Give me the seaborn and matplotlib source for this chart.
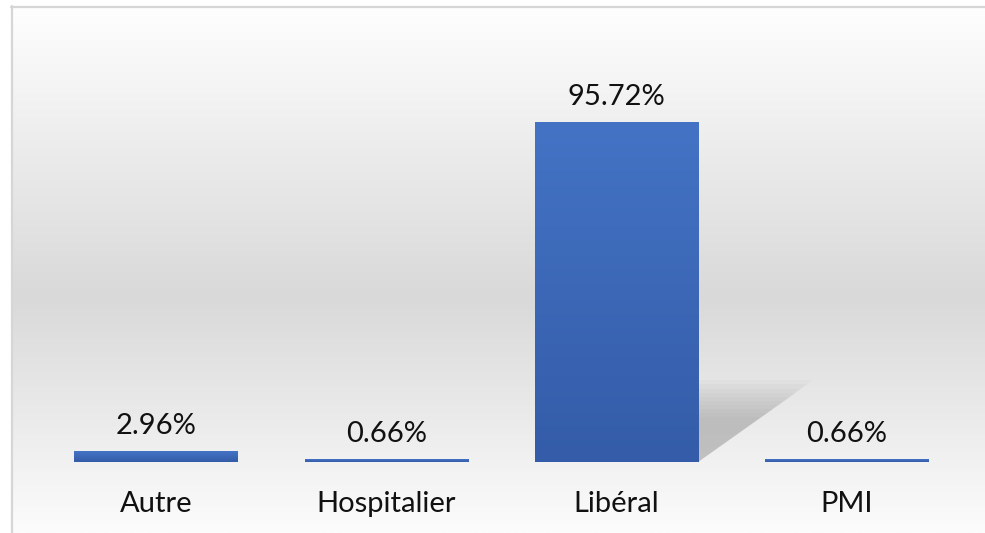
#!/usr/bin/env python3
"""Bar chart: share of respondents by practice type (Autre / Hospitalier / Libéral / PMI)."""
import numpy as np
import pandas as pd
import matplotlib
matplotlib.use("Agg")
import matplotlib.pyplot as plt
from matplotlib.colors import LinearSegmentedColormap
from matplotlib.patches import Polygon
from matplotlib.lines import Line2D
import seaborn as sns

categories = ["Autre", "Hospitalier", "Libéral", "PMI"]
values = [2.96, 0.66, 95.72, 0.66]
value_labels = ["2.96%", "0.66%", "95.72%", "0.66%"]

W, H, DPI = 985, 533, 100

sns.set_theme(style="white")
plt.rcParams["font.family"] = ["Lato", "DejaVu Sans"]

fig = plt.figure(figsize=(W / DPI, H / DPI), dpi=DPI)
fig.patch.set_facecolor("white")

# background gradient of the chart area (white -> grey -> white)
bg_cmap = LinearSegmentedColormap.from_list(
    "bg", [(0.0, "#fefefe"), (0.12, "#f6f6f6"), (0.55, "#d9d9d9"),
           (0.80, "#ececec"), (1.0, "#fcfcfc")])
bg_ax = fig.add_axes([12 / W, 0, 1 - 12 / W, (H - 7) / H])
bg_ax.imshow(np.linspace(0, 1, 256).reshape(-1, 1), aspect="auto", cmap=bg_cmap,
             extent=[0, 1, 0, 1])
bg_ax.set_axis_off()

# frame border (top and left visible, the rest is cropped)
fig.add_artist(Line2D([11.5 / W, 11.5 / W], [0, (H - 6) / H], color="#d6d6d6", lw=1.6))
fig.add_artist(Line2D([11 / W, 1], [(H - 6.5) / H, (H - 6.5) / H], color="#d6d6d6", lw=1.6))

# main axes
base_px, top_px = 462, 60
ax = fig.add_axes([41 / W, (H - base_px) / H, (962 - 41) / W, (base_px - top_px) / H])
ax.patch.set_alpha(0)

df = pd.DataFrame({"category": categories, "value": values})
sns.barplot(data=df, x="category", y="value", color="#4472C4", width=0.71,
            saturation=1, ax=ax)

ymax = values[2] * (base_px - top_px) / (base_px - 122)

bar_cmap = LinearSegmentedColormap.from_list("bar", ["#345ca8", "#4473c5"])
grad = np.linspace(0, 1, 256).reshape(-1, 1)
bars = list(ax.patches)
for p in bars:
    x0, y0 = p.get_x(), p.get_y()
    w, h = p.get_width(), p.get_height()
    ax.imshow(grad, aspect="auto", cmap=bar_cmap, origin="lower",
              extent=[x0, x0 + w, y0, y0 + h], zorder=2)
    p.set_facecolor("none")
    p.set_edgecolor("none")

# soft perspective shadow behind the tallest bar
big = bars[int(np.argmax(values))]
bx1 = big.get_x() + big.get_width()
sh_h = big.get_height() * 0.24
sh_w = big.get_width() * 0.70
for k in range(10):
    s = 1 - k * 0.05
    ax.add_patch(Polygon([(bx1, 0), (bx1, sh_h * s), (bx1 + sh_w * s, sh_h * s)],
                         closed=True, facecolor="#8a8a8a", edgecolor="none",
                         alpha=0.055, zorder=1))

ax.set_xlim(-0.5, len(categories) - 0.5)
ax.set_ylim(0, ymax)

for p, txt in zip(bars, value_labels):
    ax.annotate(txt, (p.get_x() + p.get_width() / 2, p.get_height()),
                xytext=(0, 9), textcoords="offset points",
                ha="center", va="bottom", fontsize=21, color="#111111")

ax.set_xlabel("")
ax.set_ylabel("")
ax.set_yticks([])
ax.tick_params(axis="x", length=0, pad=21, labelsize=21, labelcolor="#111111")
sns.despine(ax=ax, left=True, bottom=True)

fig.savefig("out.png", dpi=DPI)
plt.close(fig)
